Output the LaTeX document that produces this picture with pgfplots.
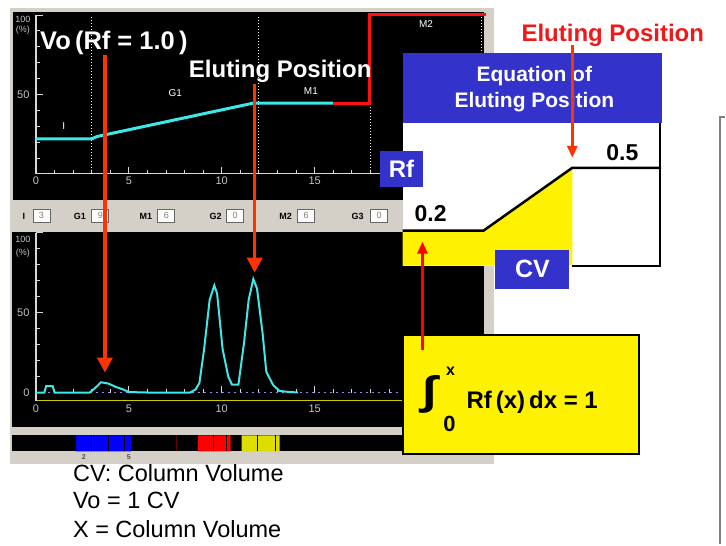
\documentclass[border=0pt]{standalone}
\usepackage{fontspec}
\setmainfont{Liberation Sans}
\usepackage{pgfplots}
\pgfplotsset{compat=1.18}
\usetikzlibrary{arrows.meta}

\definecolor{wingray}{HTML}{D4D0C8}
\definecolor{axgray}{HTML}{D8D8D8}
\definecolor{tickgray}{HTML}{C4C4C4}
\definecolor{cyanline}{HTML}{3CE8E8}
\definecolor{gradred}{HTML}{FF1010}
\definecolor{arrowred}{HTML}{FF3300}
\definecolor{titlered}{HTML}{F01818}
\definecolor{boxblue}{HTML}{3333CC}
\definecolor{purpdot}{HTML}{8A8AF0}
\definecolor{axyellow}{HTML}{C8C800}
\definecolor{fblue}{HTML}{0000FF}
\definecolor{fred}{HTML}{FF0000}
\definecolor{fyellow}{HTML}{DDDD00}

\newcommand{\fs}[1]{\fontsize{#1}{#1}\selectfont}

\pgfplotsset{
  chart/.style={
    scale only axis, anchor=south west, width=449pt,
    xmin=0, xmax=24.14, ymin=0, ymax=100,
    axis lines*=left,
    axis line style={draw=axgray, line width=1.2pt},
    xtick={0,5,10,15,20}, ytick={0,50,100},
    xticklabels={0,5,10,15,},
    minor x tick num=4, minor y tick num=4,
    tick align=inside,
    major tick length=7pt, minor tick length=4pt,
    tick style={draw=axgray, line width=0.8pt},
    tick label style={font=\fs{11}, text=tickgray},
    yticklabel style={xshift=-3pt},
    /pgf/number format/assume math mode=true,
    clip=false,
  },
}

\begin{document}
\begin{tikzpicture}
% ---- software window background
\begin{scope}[x=1pt,y=-1pt]
  \path[use as bounding box] (0,0) rectangle (726,545);
  \fill[wingray] (10,8) rectangle (495,465);
  \fill[black] (13,12) rectangle (485,200);
  \fill[black] (12,232) rectangle (485,428);
  \fill[black] (12,436) rectangle (485,452);
  % gradient step boxes
  \foreach \lab/\lx/\bx/\v in {I/24/33/3, G1/80/92/9, M1/146/158/6, G2/216/227/0, M2/286/298/6, G3/358/371/0}{
    \node[font=\bfseries\fs{9}] at (\lx,217) {\lab};
    \draw[fill=white, draw=gray!80!black, line width=0.8pt] (\bx,210) rectangle ++(17,13);
    \node[font=\fs{9}, text=gray] at (\bx+8.5,216) {\v};
  }
  % y labels "100 (%)"
  \node[font=\fs{9}, text=tickgray] at (23,19) {100};
  \node[font=\fs{9}, text=tickgray] at (23,30) {(\%)};
  \node[font=\fs{9}, text=tickgray] at (23,240) {100};
  \node[font=\fs{9}, text=tickgray] at (23,253) {(\%)};
  \node[font=\bfseries\fs{7}, text=black!70] at (84,458) {2};
  \node[font=\bfseries\fs{7}, text=black!70] at (129,458) {5};
\end{scope}

% ---- gradient program
\begin{axis}[chart, at={(36pt,-174pt)}, height=159pt, yticklabels={,50,}]
  \addplot[white, dotted, line width=1pt] coordinates {(3,0) (3,100)};
  \addplot[white, dotted, line width=1pt] coordinates {(12,0) (12,100)};
  \addplot[white, dotted, line width=1pt] coordinates {(18,0) (18,100)};
  \addplot[white, dotted, line width=1pt] coordinates {(24,0) (24,100)};
  \addplot[cyanline, line width=3pt] coordinates {(0,22) (3,22) (3.3,23.5) (11.7,44.5) (16,44.5)};
  \addplot[gradred, line width=3pt] coordinates {(16,44.5) (17.95,44.5) (17.95,100) (24.25,100)};
  \node[font=\fs{10}, text=white] at (axis cs:1.5,30) {I};
  \node[font=\fs{10}, text=white] at (axis cs:7.5,51) {G1};
  \node[font=\fs{10}, text=white] at (axis cs:14.8,52) {M1};
  \node[font=\fs{10}, text=white] at (axis cs:21,94) {M2};
\end{axis}

% ---- chromatogram
\begin{axis}[chart, at={(36pt,-393pt)}, height=160pt, yticklabels={0,50,},
    x axis line style={draw=purpdot, line width=1.6pt, dash pattern=on 2pt off 4pt},
    xticklabel style={yshift=-9pt}]
  \draw[axyellow, line width=1.2pt] (axis cs:0,-5) -- (axis cs:24.14,-5);
  \draw[axgray, line width=1.2pt] (axis cs:0,0) -- (axis cs:0,-5);
  \addplot[cyanline, line width=2pt] coordinates {
    (0,0) (0.45,0) (0.55,4) (0.9,4) (1.0,0) (2.9,0) (3.2,3) (3.5,6.4) (3.9,5.6)
    (4.3,3.5) (4.7,1.9) (5.0,0.3) (6,0) (8.3,0) (8.6,2) (8.8,6) (9.05,27)
    (9.35,58) (9.6,67) (9.75,62) (10.05,27) (10.35,10) (10.55,5) (10.9,5)
    (11.2,31) (11.45,58) (11.7,71) (11.9,65) (12.2,37) (12.4,13) (12.75,5)
    (13.1,1) (13.5,0.5) (14.1,0)};
\end{axis}

% ---- fraction strip
\begin{axis}[at={(12pt,-452pt)}, anchor=south west, scale only axis,
    width=473pt, height=16pt, xmin=12, xmax=485, ymin=0, ymax=1, hide axis]
  \addplot[fill=fblue, draw=none] coordinates {(76,0) (76,1) (131,1) (131,0)} \closedcycle;
  \addplot[fill=fred, draw=none] coordinates {(198,0) (198,1) (231,1) (231,0)} \closedcycle;
  \addplot[fill=fyellow, draw=none] coordinates {(242,0) (242,1) (280,1) (280,0)} \closedcycle;
  \addplot[black, line width=1.2pt] coordinates {(92,0) (92,1)};
  \addplot[black, line width=1.2pt] coordinates {(108.5,0) (108.5,1)};
  \addplot[black, line width=1.2pt] coordinates {(124.5,0) (124.5,1)};
  \addplot[black, line width=1.2pt] coordinates {(214,0) (214,1)};
  \addplot[black, line width=1.2pt] coordinates {(227,0) (227,1)};
  \addplot[black, line width=1.2pt] coordinates {(258,0) (258,1)};
  \addplot[black, line width=1.2pt] coordinates {(276,0) (276,1)};
  \addplot[red!40!black, line width=1pt] coordinates {(177,0) (177,1)};
  \addplot[fred, line width=1pt] coordinates {(229.5,0) (229.5,1)};
\end{axis}

% ---- Rf schematic (white frame)
\begin{scope}[x=1pt,y=-1pt]
  \fill[white] (403,123) rectangle (662,266);
\end{scope}
\begin{axis}[at={(403pt,-266pt)}, anchor=south west, scale only axis,
    width=259pt, height=143pt, xmin=0, xmax=2.59, ymin=0.0333, ymax=0.7143,
    hide axis, clip=false]
  \addplot[fill=yellow, draw=none] coordinates {(0,0.0333) (0,0.2) (0.81,0.2) (1.7,0.5) (1.7,0.0333)} -- cycle;
  \addplot[black, line width=2.5pt] coordinates {(0,0.2) (0.81,0.2) (1.7,0.5) (2.59,0.5)};
\end{axis}

\begin{scope}[x=1pt,y=-1pt]
  \draw[black, line width=2pt] (661,123) -- (661,266) -- (573,266);
  \fill[boxblue] (403,53) rectangle (663,123);
  \node[font=\bfseries\fs{21}, text=white, anchor=base] at (535,82) {Equation of};
  \node[font=\bfseries\fs{21}, text=white, anchor=base] at (535,108) {Eluting Position};
  \fill[boxblue] (380,151) rectangle (424,187);
  \node[font=\bfseries\fs{24}, text=white] at (402,169) {Rf};
  \fill[boxblue] (496,250) rectangle (570,289);
  \node[font=\bfseries\fs{25}, text=white] at (533,269.5) {CV};
  \node[font=\bfseries\fs{23}, anchor=base west, inner sep=0pt] at (607,161) {0.5};
  \node[font=\bfseries\fs{23}, anchor=base west, inner sep=0pt] at (415,222) {0.2};

  % formula box
  \draw[fill=yellow, draw=black, line width=2pt] (403,335) rectangle (640,455);
  \node[font=\bfseries\fs{40}, inner sep=0pt] at (430,395) {\scalebox{1.3}[1]{∫}};
  \node[font=\bfseries\fs{16}, inner sep=0pt] at (451,372) {x};
  \node[font=\bfseries\fs{22}, inner sep=0pt] at (450,424) {0};
  \node[font=\bfseries\fs{24}, anchor=base west, inner sep=0pt] at (467,409) {Rf\,(x)\,dx = 1};

  % side frame
  \draw[gray, line width=1.8pt] (726,117) -- (721,117) -- (721,545);

  % titles
  \node[font=\bfseries\fs{25.5}, text=white, anchor=base west, inner sep=0pt] at (40,50) {Vo\,(Rf = 1.0\,)};
  \node[font=\bfseries\fs{24}, text=white, anchor=base west, inner sep=0pt] at (189,78) {Eluting Position};
  \node[font=\bfseries\fs{24}, text=titlered, anchor=base west, inner sep=0pt] at (522,42) {Eluting Position};

  % arrows
  \draw[arrowred, line width=3.5pt, -{Triangle[width=15pt,length=15pt]}] (105,55) -- (105,373);
  \draw[arrowred, line width=3.5pt, -{Triangle[width=15pt,length=15pt]}] (255,84) -- (255,273);
  \draw[arrowred, line width=3pt, -{Triangle[width=10pt,length=12pt]}] (573,45) -- (573,158);
  \draw[fred, line width=3pt, -{Triangle[width=10pt,length=12pt]}] (423,350) -- (423,242);

  % notes
  \node[font=\fs{23.5}, anchor=base west, inner sep=0pt] at (73,482) {CV: Column Volume};
  \node[font=\fs{23.5}, anchor=base west, inner sep=0pt] at (73,509) {Vo = 1 CV};
  \node[font=\fs{23.5}, anchor=base west, inner sep=0pt] at (73,538) {X = Column Volume};
\end{scope}
\end{tikzpicture}
\end{document}
